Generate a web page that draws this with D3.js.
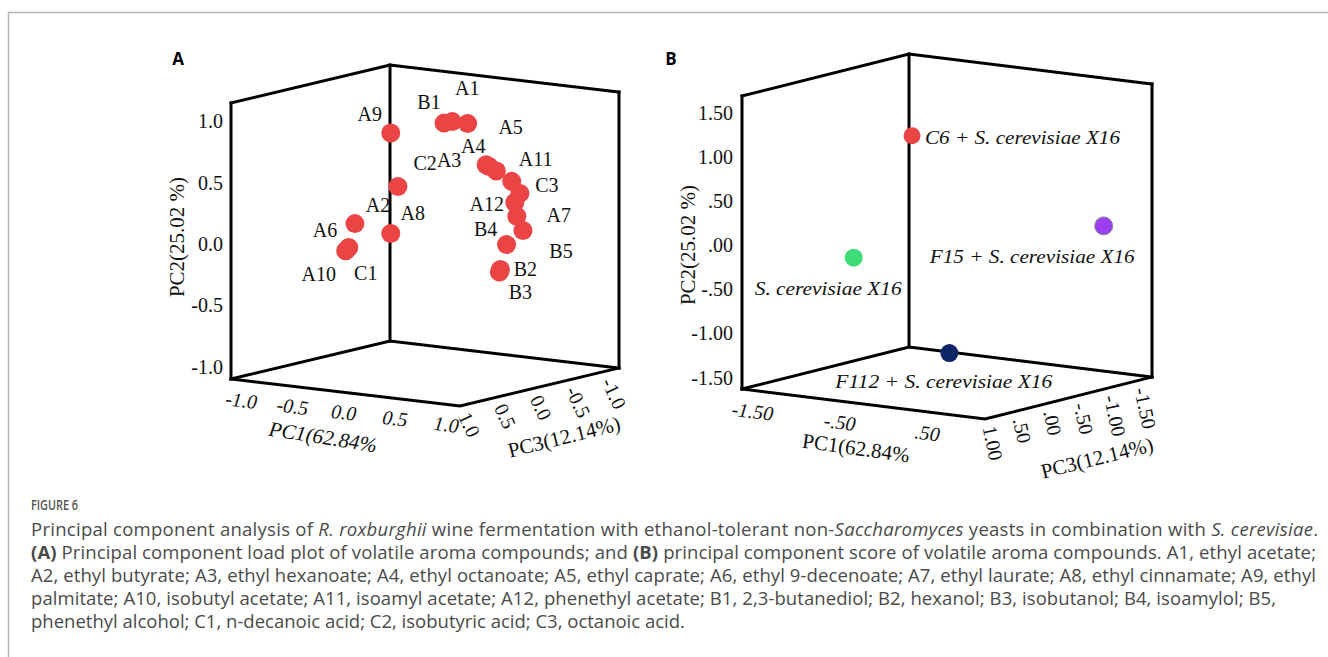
<!DOCTYPE html>
<html>
<head>
<meta charset="utf-8">
<script src="https://cdn.jsdelivr.net/npm/d3@7"></script>
<style>
  body { margin: 0; background: #fff; }
</style>
</head>
<body>
<script>
// Panel A : loadings of the volatile compounds (PC1, PC2, PC3)
const loadNames = ["A1", "A2", "A3", "A4", "A5", "A6", "A7", "A8", "A9", "A10", "A11", "A12",
                   "B1", "B2", "B3", "B4", "B5", "C1", "C2", "C3"];
const loadPC1 = [0.15, -0.24, 0.51, 0.58, 0.30, -0.38, 0.78, -0.31, -0.31, -0.47, 0.73, 0.76,
                 0.07, 0.62, 0.61, 0.68, 0.84, -0.44, 0.48, 0.81];
const loadPC2 = [0.94, 0.40, 0.61, 0.58, 0.94, 0.14, 0.23, 0.01, 0.83, -0.09, 0.51, 0.34,
                 0.92, -0.22, -0.24, -0.01, 0.12, -0.06, 0.62, 0.42];
const loadPC3 = [-0.2, 0.0, -0.2, -0.2, -0.2, 0.4, -0.2, 0.0, 0.0, 0.4, -0.2, -0.2,
                 -0.2, -0.2, -0.2, -0.2, -0.2, 0.4, -0.2, -0.2];

// Panel B : scores of the four fermentations
const scoreNames = ["C6 + S. cerevisiae X16", "S. cerevisiae X16", "F15 + S. cerevisiae X16", "F112 + S. cerevisiae X16"];
const scorePC1 = [-0.21, -0.46, 1.08, -0.13];
const scorePC2 = [1.28, -0.03, 0.19, -1.26];
const scorePC3 = [0.3, 0.9, -1.0, -0.2];

// tick values
const ticksA = [-1.0, -0.5, 0.0, 0.5, 1.0];
const ticksB_PC1 = [-1.5, -0.5, 0.5];
const ticksB_PC2 = [-1.5, -1.0, -0.5, 0.0, 0.5, 1.0, 1.5];
const ticksB_PC3 = [1.0, 0.5, 0.0, -0.5, -1.0, -1.5];

// axis titles
const titlePC1 = "PC1(62.84%";
const titlePC2 = "PC2(25.02 %)";
const titlePC3 = "PC3(12.14%)";

// caption lines, segments: [text, style]
const captionHead = "FIGURE 6";
const captionLines = [
  [["Principal component analysis of ", ""], ["R. roxburghii", "i"], [" wine fermentation with ethanol-tolerant non-", ""],
   ["Saccharomyces", "i"], [" yeasts in combination with ", ""], ["S. cerevisiae", "i"], [".", ""]],
  [["(A)", "b"], [" Principal component load plot of volatile aroma compounds; and ", ""], ["(B)", "b"],
   [" principal component score of volatile aroma compounds. A1, ethyl acetate;", ""]],
  [["A2, ethyl butyrate; A3, ethyl hexanoate; A4, ethyl octanoate; A5, ethyl caprate; A6, ethyl 9-decenoate; A7, ethyl laurate; A8, ethyl cinnamate; A9, ethyl", ""]],
  [["palmitate; A10, isobutyl acetate; A11, isoamyl acetate; A12, phenethyl acetate; B1, 2,3-butanediol; B2, hexanol; B3, isobutanol; B4, isoamylol; B5,", ""]],
  [["phenethyl alcohol; C1, n-decanoic acid; C2, isobutyric acid; C3, octanoic acid.", ""]]
];

// ---- layout / style (not data) ----
const serif = "'Liberation Serif', 'Times New Roman', serif";
const sans = "'Open Sans', 'Noto Sans', sans-serif";
const loc = d3.formatLocale({ decimal: ".", thousands: ",", grouping: [3], currency: ["", ""], minus: "-" });

// label offsets for panel A, relative to the point
const offA = {
  A9: [-21, -19], B1: [-15, -21], A1: [15, -34], A5: [43, 4], C2: [-61, -2], A3: [-40, -6],
  A4: [-23, -25], A11: [24, -22], C3: [27, -8], A12: [-28, 1], A7: [42, -1], B5: [38, 20],
  B4: [-21, -16], B2: [25, -1], B3: [21, 20], A2: [-20, 18], A8: [22, -21], A6: [-30, 6],
  A10: [-27, 23], C1: [17, 26]
};
// label placement for panel B (start of text, relative to the point) and colors
const offB = [[13, 2], [-99, 31], [-174, 31], [-114, 28]];
const lenB = [195, 147, 205, 217];
const colB = ["#ea4444", "#3ddc78", "#9b3ff0", "#0c2566"];
// caption line widths in the printed figure (last line left natural)
const capLen = [1287, 1285, 1285, 1245, null];

const svg = d3.select("body").append("svg").attr("width", 1328).attr("height", 657);

// frame of the figure box
svg.append("path").attr("d", "M8.5,657 V12.5 H1328")
  .attr("fill", "none").attr("stroke", "#b5b5b5").attr("stroke-width", 1.5);

function makeProj(p) {
  const x1 = d3.scaleLinear().domain(p.d1).range([0, p.e1[0]]);
  const y1 = d3.scaleLinear().domain(p.d1).range([0, p.e1[1]]);
  const x3 = d3.scaleLinear().domain(p.d3).range([0, p.e3[0]]);
  const y3 = d3.scaleLinear().domain(p.d3).range([0, p.e3[1]]);
  const y2 = d3.scaleLinear().domain(p.d2).range([0, -p.h]);
  return (a, b, c) => [p.o[0] + x1(a) + x3(c), p.o[1] + y1(a) + y3(c) + y2(b)];
}

function drawBox(g, P, p) {
  const [a0, a1] = p.d1, [b0, b1] = p.d2, [c0, c1] = p.d3;
  const edges = [
    [P(a0, b0, c0), P(a0, b1, c0)],
    [P(a0, b0, c1), P(a0, b1, c1)],
    [P(a1, b0, c1), P(a1, b1, c1)],
    [P(a0, b1, c0), P(a0, b1, c1), P(a1, b1, c1)],
    [P(a0, b0, c0), P(a1, b0, c0), P(a1, b0, c1)],
    [P(a0, b0, c0), P(a0, b0, c1), P(a1, b0, c1)]
  ];
  g.selectAll("path.edge").data(edges).join("path")
    .attr("class", "edge")
    .attr("d", d3.line())
    .attr("fill", "none").attr("stroke", "#000").attr("stroke-width", 3)
    .attr("stroke-linejoin", "miter").attr("stroke-linecap", "square");
}

function drawAxes(g, P, p) {
  const [a0] = p.d1, [b0] = p.d2, [c0] = p.d3;
  // PC2 on the left edge
  g.selectAll("text.t2").data(p.t2).join("text").attr("class", "t2")
    .attr("x", d => P(a0, d, c0)[0] - p.o2)
    .attr("y", d => P(a0, d, c0)[1])
    .attr("text-anchor", "end").attr("dominant-baseline", "central")
    .attr("font-family", serif).attr("font-size", 20).attr("fill", "#111")
    .text(p.fmt);
  // PC1 along the front-left floor edge
  g.selectAll("text.t1").data(p.t1).join("text").attr("class", "t1")
    .attr("transform", d => {
      const [x, y] = P(d, b0, c0);
      return `translate(${x + p.o1[0]},${y + p.o1[1]}) rotate(${p.r1})`;
    })
    .attr("text-anchor", "middle").attr("dominant-baseline", "central")
    .attr("font-family", serif).attr("font-style", "italic").attr("font-size", 20).attr("fill", "#111")
    .text(p.fmt);
  // PC3 along the front-right floor edge
  g.selectAll("text.t3").data(p.t3).join("text").attr("class", "t3")
    .attr("transform", d => {
      const [x, y] = P(p.d1[1], b0, d);
      return `translate(${x + p.o3[0]},${y + p.o3[1]}) rotate(${p.r3})`;
    })
    .attr("text-anchor", "start").attr("dominant-baseline", "central")
    .attr("font-family", serif).attr("font-size", 20).attr("fill", "#111")
    .text(p.fmt);

  // titles
  const titles = [
    [titlePC1, p.ti1, p.tItalic],
    [titlePC2, p.ti2, false],
    [titlePC3, p.ti3, false]
  ];
  g.selectAll("text.ttl").data(titles).join("text").attr("class", "ttl")
    .attr("transform", d => `translate(${d[1][0]},${d[1][1]}) rotate(${d[1][2]})`)
    .attr("text-anchor", "middle").attr("dominant-baseline", "central")
    .attr("font-family", serif).attr("font-size", 21).attr("fill", "#111")
    .attr("font-style", d => d[2] ? "italic" : "normal")
    .text(d => d[0]);

  g.append("text").attr("x", p.letter[0]).attr("y", p.letter[1])
    .attr("text-anchor", "middle")
    .attr("font-family", sans).attr("font-weight", 700).attr("font-size", 17)
    .text(p.name);
}

// ---------- Panel A ----------
const geomA = {
  name: "A", letter: [178, 65],
  o: [231, 379], d1: [-1.1, 1.134], e1: [229, 27], d3: [1.1, -1.12], e3: [159, -38], d2: [-1.1, 1.15], h: 276,
  t1: ticksA, t2: ticksA, t3: ticksA, fmt: loc.format(".1f"),
  o2: 8, o1: [0, 20], r1: 7, o3: [-3, 9], r3: 65,
  ti1: [323, 437, 9], ti2: [177, 237, -90], ti3: [564, 437, -14], tItalic: true
};
const PA = makeProj(geomA);
const gA = svg.append("g");
drawBox(gA, PA, geomA);
drawAxes(gA, PA, geomA);

const ptsA = loadNames.map((n, i) => {
  const [x, y] = PA(loadPC1[i], loadPC2[i], loadPC3[i]);
  return { n, x, y };
});
gA.selectAll("text.lab").data(ptsA).join("text").attr("class", "lab")
  .attr("x", d => d.x + offA[d.n][0]).attr("y", d => d.y + offA[d.n][1])
  .attr("text-anchor", "middle").attr("dominant-baseline", "central")
  .attr("font-family", serif).attr("font-size", 20).attr("fill", "#111")
  .text(d => d.n);
gA.selectAll("circle").data(ptsA).join("circle")
  .attr("cx", d => d.x).attr("cy", d => d.y).attr("r", 9.5)
  .attr("fill", "#ea4444");

// ---------- Panel B ----------
// SPSS style numbers: .50, -.50, -1.00
const fmtB = v => loc.format(".2f")(v).replace(/^(-?)0\./, "$1.");
const geomB = {
  name: "B", letter: [671, 65],
  o: [742, 389], d1: [-1.62, 1.16], e1: [243, 30], d3: [1.07, -1.68], e3: [167, -42], d2: [-1.63, 1.69], h: 293,
  t1: ticksB_PC1, t2: ticksB_PC2, t3: ticksB_PC3, fmt: fmtB,
  o2: 9, o1: [0, 21], r1: 7, o3: [0, 8], r3: 78,
  ti1: [856, 448, 8], ti2: [688, 245, -90], ti3: [1097, 458, -14], tItalic: false
};
const PB = makeProj(geomB);
const gB = svg.append("g");
drawBox(gB, PB, geomB);
drawAxes(gB, PB, geomB);

const ptsB = scoreNames.map((n, i) => {
  const [x, y] = PB(scorePC1[i], scorePC2[i], scorePC3[i]);
  return { n, i, x, y };
});
gB.selectAll("text.lab").data(ptsB).join("text").attr("class", "lab")
  .attr("x", d => d.x + offB[d.i][0]).attr("y", d => d.y + offB[d.i][1])
  .attr("dominant-baseline", "central")
  .attr("font-family", serif).attr("font-style", "italic").attr("font-size", 19).attr("fill", "#111")
  .attr("textLength", d => lenB[d.i]).attr("lengthAdjust", "spacingAndGlyphs")
  .text(d => d.n);
gB.selectAll("circle").data(ptsB).join("circle")
  .attr("cx", d => d.x).attr("cy", d => d.y).attr("r", d => d.i === 0 ? 8.5 : 9)
  .attr("fill", d => colB[d.i])
  .attr("stroke", d => d.i === 2 ? "#888" : "none").attr("stroke-width", 1);

// ---------- Caption ----------
svg.append("text").attr("x", 31).attr("y", 510)
  .attr("font-family", sans).attr("font-weight", 600).attr("font-size", 14).attr("fill", "#555")
  .attr("textLength", 47).attr("lengthAdjust", "spacingAndGlyphs")
  .text(captionHead);

const cap = svg.append("g").attr("font-family", sans).attr("font-size", 18.5).attr("fill", "#4a4a4a");
cap.selectAll("text").data(captionLines).join("text")
  .attr("x", 31).attr("y", (d, i) => 536 + i * 23)
  .attr("textLength", (d, i) => capLen[i])
  .attr("lengthAdjust", "spacing")
  .selectAll("tspan").data(d => d).join("tspan")
  .attr("font-style", d => d[1] === "i" ? "italic" : null)
  .attr("font-weight", d => d[1] === "b" ? 700 : null)
  .text(d => d[0]);
</script>
</body>
</html>
